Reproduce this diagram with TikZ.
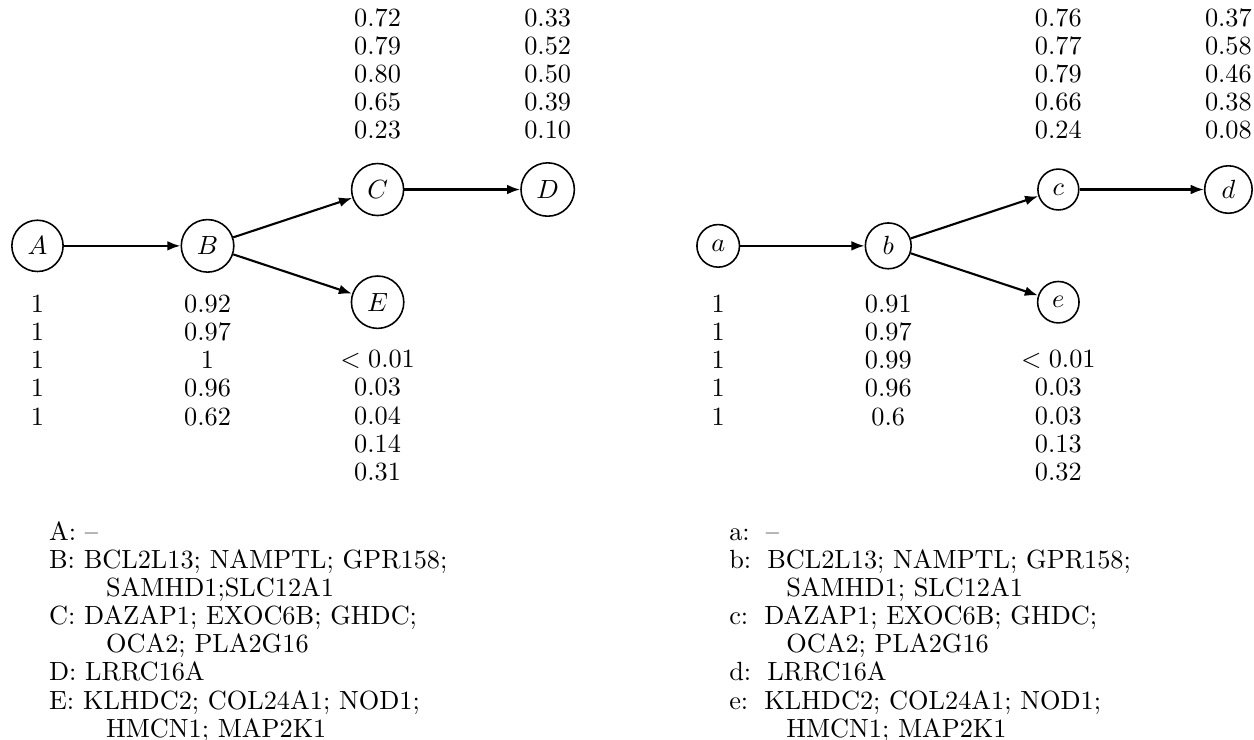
\documentclass[tikz,border=0pt]{standalone}
\usepackage{amsmath}
\usepackage{tikz}
\usetikzlibrary{arrows,arrows.meta,positioning}

\begin{document}
\begin{tikzpicture}[->,>={Latex[length=5pt,width=3.7pt]},thick,node distance=2.273cm,
 gene/.style={circle,draw,semithick,on grid},
 vals/.style={align=center,inner sep=0pt,font=\fontsize{10}{10.72}\selectfont},
 genelist/.style={align=left,anchor=north west,inner sep=0pt,
   font=\fontsize{10}{10.72}\selectfont}]
 \useasboundingbox (0,0) rectangle (16.76,9.89);

 % left tree
 \node[gene] (A) at (0.501,6.604) {$A$};
 \node[gene] (B) [right=of A] {$B$};
 \node[gene] (C) [above right=0.753cm and 2.273cm of B] {$C$};
 \node[gene] (D) [right=of C] {$D$};
 \node[gene] (E) [below right=0.753cm and 2.273cm of B] {$E$};

 \path (A) edge (B)
 (B) edge (C)
 edge (E)
 (C) edge (D);

 \node[vals] (Avals) [below=0.64cm of A.center] {1\\1\\1\\1\\1};
 \node[vals] (Bvals) [below=0.64cm of B.center] {0.92\\0.97\\1\\0.96\\0.62};
 \node[vals] (Cvals) [above=0.655cm of C.center] {0.72\\0.79\\0.80\\0.65\\0.23};
 \node[vals] (Dvals) [above=0.655cm of D.center] {0.33\\0.52\\0.50\\0.39\\0.10};
 \node[vals] (Evals) [below=0.635cm of E.center] {$<0.01$\\0.03\\0.04\\0.14\\0.31};

 \node[genelist] (Alist) at (0.642,2.95) {\strut A: --\\
 B: BCL2L13; NAMPTL; GPR158;\\
 \hspace*{21.7pt}SAMHD1;SLC12A1\\
 C: DAZAP1; EXOC6B; GHDC;\\
 \hspace*{21.7pt}OCA2; PLA2G16\\
 D: LRRC16A\\
 E: KLHDC2; COL24A1; NOD1;\\
 \hspace*{21.7pt}HMCN1; MAP2K1};

 % right tree
 \node[gene] (a) at (9.599,6.604) {$a$};
 \node[gene] (b) [right=of a] {$b$};
 \node[gene] (c) [above right=0.753cm and 2.273cm of b] {$c$};
 \node[gene] (d) [right=of c] {$d$};
 \node[gene] (e) [below right=0.753cm and 2.273cm of b] {$e$};

 \path (a) edge (b)
 (b) edge (c)
 edge (e)
 (c) edge (d);

 \node[vals] (avals) [below=0.64cm of a.center] {1\\1\\1\\1\\1};
 \node[vals] (bvals) [below=0.64cm of b.center] {0.91\\0.97\\0.99\\0.96\\0.6};
 \node[vals] (cvals) [above=0.655cm of c.center] {0.76\\0.77\\0.79\\0.66\\0.24};
 \node[vals] (dvals) [above=0.655cm of d.center] {0.37\\0.58\\0.46\\0.38\\0.08};
 \node[vals] (evals) [below=0.635cm of e.center] {$<0.01$\\0.03\\0.03\\0.13\\0.32};

 \node[genelist] (alist) at (9.733,2.95) {\strut a:\, --\\
 b:\, BCL2L13; NAMPTL; GPR158;\\
 \hspace*{21.7pt}SAMHD1; SLC12A1\\
 c:\, DAZAP1; EXOC6B; GHDC;\\
 \hspace*{21.7pt}OCA2; PLA2G16\\
 d:\, LRRC16A\\
 e:\, KLHDC2; COL24A1; NOD1;\\
 \hspace*{21.7pt}HMCN1; MAP2K1};
\end{tikzpicture}
\end{document}
